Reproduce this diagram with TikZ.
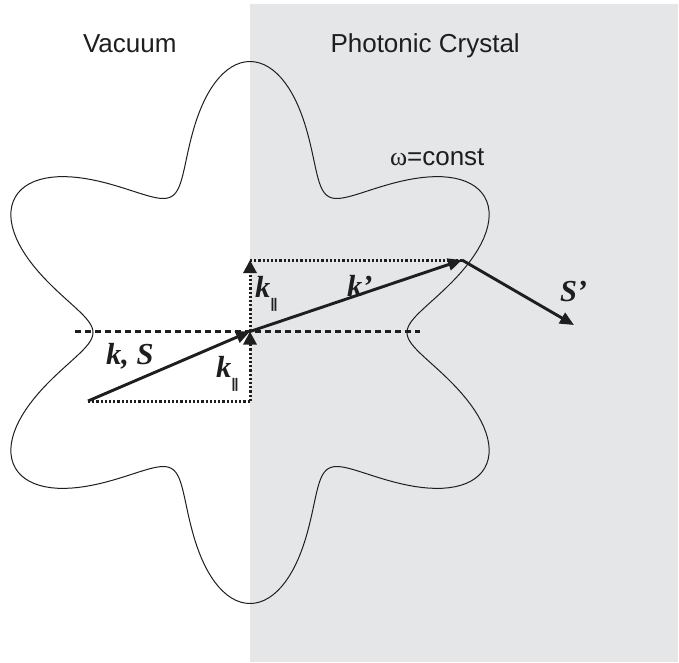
\documentclass[tikz,border=0pt]{standalone}
\usepackage{fontspec}
\setmainfont{Liberation Serif}
\setsansfont{Liberation Sans}
\usetikzlibrary{arrows.meta}
\definecolor{pcgray}{RGB}{229,230,232}
\definecolor{inkc}{RGB}{30,30,30}
\begin{document}
\begin{tikzpicture}[x=1pt,y=-1pt,
  vec/.style={draw=inkc, line width=2.9pt, -{Triangle[length=14pt,width=12pt]}},
  dotline/.style={draw=inkc, line width=3pt, dash pattern=on 2.2pt off 2pt},
  dotvec/.style={dotline, -{Triangle[length=13pt,width=13pt]}},
  dashline/.style={draw=inkc, line width=2.2pt, dash pattern=on 6pt off 4pt},
  lbl/.style={anchor=base west, inner sep=0pt, outer sep=0pt, text=inkc},
  sanslbl/.style={lbl, font=\sffamily\fontsize{26}{30}\selectfont},
  veclbl/.style={lbl, font=\rmfamily\bfseries\itshape\fontsize{30.5}{33}\selectfont}
]
\newcommand{\parsub}{\raisebox{-11pt}{\sffamily\bfseries\fontsize{14}{14}\selectfont|\kern-0.8pt|}}
\useasboundingbox (0,0) rectangle (679,662);
\fill[white] (0,0) rectangle (679,662);
\fill[pcgray] (250,4) rectangle (678,662);

% iso-frequency contour
\draw[inkc, line width=1pt] plot[domain=0:360, samples=361]
  ({250+(214-57*cos(6*\x))*cos(\x)}, {332.5-(214-57*cos(6*\x))*sin(\x)}) -- cycle;

% points
\coordinate (O) at (88,401);
\coordinate (A) at (250,331.5);
\coordinate (B) at (250,401);
\coordinate (T) at (250,260);
\coordinate (P) at (462,260);
\coordinate (Q) at (574,325);
\coordinate (D1) at (75,331.5);
\coordinate (D2) at (420,331.5);

% construction lines
\draw[dashline] (D1) -- (D2);
\draw[dotline] (O) -- (B);
\draw[dotvec] (B) -- (A);
\draw[dotvec] (A) -- (T);
\draw[dotline] (T) -- (P);

% vectors
\draw[vec] (O) -- (A);
\draw[vec] (A) -- (P);
\draw[vec] (P) -- (Q);

% labels
\node[sanslbl] (vac) at (83,52.5) {Vacuum};
\node[sanslbl] (pc) at (330.5,52) {Photonic Crystal};
\node[sanslbl] (om) at (390,165) {{\rmfamily ω}=const};
\node[veclbl] (kS) at (106,364) {k, S};
\node[veclbl] (kpar1) at (216,377) {k\parsub};
\node[veclbl] (kpar2) at (255,297) {k\parsub};
\node[veclbl] (kp) at (347,296) {k’};
\node[veclbl] (Sp) at (560,301.5) {S’};
\end{tikzpicture}
\end{document}
